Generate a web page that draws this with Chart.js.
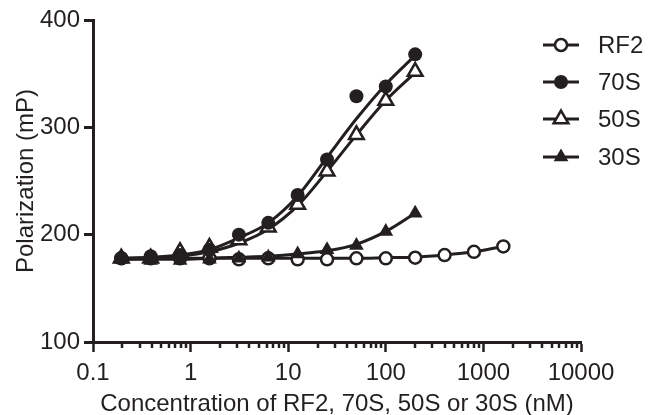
<!DOCTYPE html>
<html>
<head>
<meta charset="utf-8">
<script src="https://cdn.jsdelivr.net/npm/chart.js@4/dist/chart.umd.min.js"></script>
<style>
  body { margin: 0; background: #fff; }
  #wrap { width: 649px; height: 415px; }
</style>
</head>
<body>
<div id="wrap"><canvas id="chart" width="649" height="415"></canvas></div>
<script>
const ink = '#231f20';

// concentrations (nM)
const concRibo = [0.195, 0.39, 0.78, 1.56, 3.125, 6.25, 12.5, 25, 50, 100, 200];
const concRF2 = [0.195, 0.39, 0.78, 1.56, 3.125, 6.25, 12.5, 25, 50, 100, 200, 400, 800, 1600];

// measured polarization (mP)
const rf2Points = [178, 178, 178, 178, 177, 178, 177, 177, 178, 178, 178.5, 181, 184, 189];
const s70Points = [178, 180, 181, 186, 200, 211, 237, 270, 329, 338, 368];
const s50Points = [178, 178, 184, 188, 195, 207, 228, 259, 293, 325, 352];
const s30Points = [177, 176, 176, 177, 178, 179, 182, 186, 190, 203, 220];

// fitted curves
const rf2Fit = [178, 178, 178, 178, 178, 178, 178, 178, 178, 178.5, 179, 181, 184, 189];
const s70Fit = [178, 179, 181, 186, 197, 211, 236, 272, 308, 340, 367];
const s50Fit = [177, 178, 180, 184, 192, 205, 227, 259, 293, 325, 351];
const s30Fit = [177, 177, 177, 178, 179, 180, 182, 185, 191, 203, 220];

const seriesNames = ['RF2', '70S', '50S', '30S'];
const xDecades = [0.1, 1, 10, 100, 1000, 10000];
const xTickLabels = ['0.1', '1', '10', '100', '1000', '10000'];
const minorSteps = [2, 3, 4, 5, 6, 7, 8, 9];
const yTicks = [100, 200, 300, 400];

const toXY = (xs, ys) => xs.map((x, i) => ({ x: x, y: ys[i] }));

const isDecade = (v) => {
  const e = Math.log10(v);
  return Math.abs(e - Math.round(e)) < 1e-6;
};

const markerStyle = {
  RF2: { pointStyle: 'circle', radius: 6, fill: '#fff', border: 2.5 },
  '70S': { pointStyle: 'circle', radius: 7, fill: ink, border: 0 },
  '50S': { pointStyle: 'triangle', radius: 8.5, fill: '#fff', border: 2.5 },
  '30S': { pointStyle: 'triangle', radius: 8.5, fill: ink, border: 0 },
};

function pointSet(name, xs, ys) {
  const m = markerStyle[name];
  return {
    label: name,
    data: toXY(xs, ys),
    showLine: false,
    pointStyle: m.pointStyle,
    pointRadius: m.radius,
    pointBackgroundColor: m.fill,
    pointBorderColor: ink,
    pointBorderWidth: m.border,
  };
}

function fitSet(name, xs, ys) {
  return {
    label: name + ' fit',
    data: toXY(xs, ys),
    showLine: true,
    pointRadius: 0,
    borderColor: ink,
    borderWidth: 3,
    tension: 0.4,
    cubicInterpolationMode: 'monotone',
  };
}

function drawMarker(ctx, name, x, y) {
  const m = markerStyle[name];
  ctx.beginPath();
  if (m.pointStyle === 'circle') {
    ctx.arc(x, y, m.radius, 0, Math.PI * 2);
  } else {
    const r = m.radius;
    for (let k = 0; k < 3; k++) {
      const a = -Math.PI / 2 + k * 2 * Math.PI / 3;
      const px = x + r * Math.cos(a);
      const py = y + r * Math.sin(a);
      if (k === 0) ctx.moveTo(px, py); else ctx.lineTo(px, py);
    }
    ctx.closePath();
  }
  ctx.fillStyle = m.fill;
  ctx.fill();
  if (m.border) {
    ctx.lineWidth = m.border;
    ctx.strokeStyle = ink;
    ctx.stroke();
  }
}

const extrasPlugin = {
  id: 'extras',
  afterDraw(chart) {
    const ctx = chart.ctx;
    const xs = chart.scales.x;
    const bottom = chart.chartArea.bottom;

    // short minor ticks on the log axis
    ctx.save();
    ctx.strokeStyle = ink;
    ctx.lineWidth = 2.5;
    xs.ticks.forEach((t) => {
      if (isDecade(t.value)) return;
      const px = Math.round(xs.getPixelForValue(t.value));
      ctx.beginPath();
      ctx.moveTo(px, bottom);
      ctx.lineTo(px, bottom + 6);
      ctx.stroke();
    });

    // legend: line with marker, then name
    const rowY = [45, 82, 119, 157];
    ctx.font = '24px "Liberation Sans", Arial, sans-serif';
    ctx.textBaseline = 'middle';
    seriesNames.forEach((name, i) => {
      const y = rowY[i];
      ctx.beginPath();
      ctx.strokeStyle = ink;
      ctx.lineWidth = 3;
      ctx.moveTo(543, y);
      ctx.lineTo(579, y);
      ctx.stroke();
      drawMarker(ctx, name, 561, y);
      ctx.fillStyle = ink;
      ctx.fillText(name, 598, y + 1);
    });
    ctx.restore();
  },
};

const fontSpec = { family: '"Liberation Sans", Arial, sans-serif', size: 24 };

new Chart(document.getElementById('chart'), {
  type: 'scatter',
  data: {
    datasets: [
      pointSet('70S', concRibo, s70Points),
      pointSet('30S', concRibo, s30Points),
      pointSet('50S', concRibo, s50Points),
      pointSet('RF2', concRF2, rf2Points),
      fitSet('RF2', concRF2, rf2Fit),
      fitSet('70S', concRibo, s70Fit),
      fitSet('50S', concRibo, s50Fit),
      fitSet('30S', concRibo, s30Fit),
    ],
  },
  options: {
    responsive: false,
    animation: false,
    layout: { padding: { left: 0, top: 20, right: 68, bottom: 0 } },
    plugins: {
      legend: { display: false },
      tooltip: { enabled: false },
    },
    scales: {
      x: {
        type: 'logarithmic',
        min: 0.1,
        max: 10000,
        border: { display: true, color: ink, width: 3 },
        grid: {
          display: true,
          drawOnChartArea: false,
          drawTicks: true,
          tickLength: 10,
          tickWidth: 2.5,
          tickColor: (c) => (c.tick && isDecade(c.tick.value) ? ink : 'rgba(0,0,0,0)'),
        },
        afterBuildTicks: (scale) => {
          const ticks = [];
          xDecades.forEach((d, i) => {
            ticks.push({ value: d, major: true });
            if (i < xDecades.length - 1) {
              minorSteps.forEach((s) => ticks.push({ value: d * s, major: false }));
            }
          });
          scale.ticks = ticks;
        },
        ticks: {
          autoSkip: false,
          maxRotation: 0,
          padding: 7,
          color: ink,
          font: fontSpec,
          callback: (v) => (isDecade(v) ? xTickLabels[Math.round(Math.log10(v)) + 1] : ''),
        },
        title: {
          display: true,
          text: 'Concentration of RF2, 70S, 50S or 30S (nM)',
          color: ink,
          font: fontSpec,
          padding: { top: 0, bottom: -4 },
        },
        afterFit: (scale) => { scale.height = 73; },
      },
      y: {
        min: 100,
        max: 400,
        border: { display: true, color: ink, width: 3 },
        grid: {
          display: true,
          drawOnChartArea: false,
          drawTicks: true,
          tickLength: 9,
          tickWidth: 3,
          tickColor: ink,
        },
        afterBuildTicks: (scale) => { scale.ticks = yTicks.map((v) => ({ value: v })); },
        ticks: {
          padding: 4,
          color: ink,
          font: fontSpec,
        },
        title: {
          display: true,
          text: 'Polarization (mP)',
          color: ink,
          font: fontSpec,
          padding: { top: 12, bottom: 0 },
        },
        afterFit: (scale) => { scale.width = 93; },
      },
    },
  },
  plugins: [extrasPlugin],
});
</script>
</body>
</html>
